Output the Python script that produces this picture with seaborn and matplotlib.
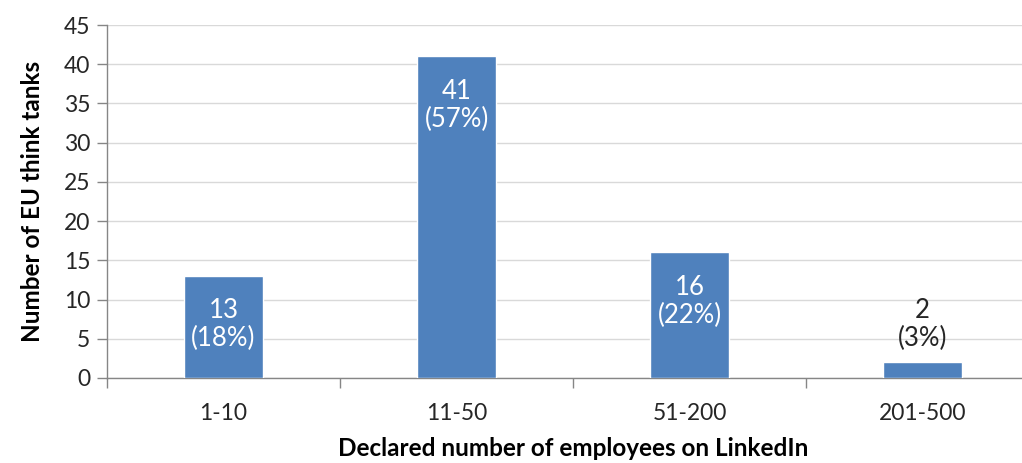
import matplotlib
matplotlib.use("Agg")
import matplotlib.pyplot as plt
import seaborn as sns
import pandas as pd
from matplotlib.ticker import FixedLocator

categories = ["1-10", "11-50", "51-200", "201-500"]
counts = [13, 41, 16, 2]
shares = ["18%", "57%", "22%", "3%"]
yticks = [0, 5, 10, 15, 20, 25, 30, 35, 40, 45]

df = pd.DataFrame({"cat": categories, "n": counts})

sns.set_theme(style="white")
plt.rcParams['font.family'] = ['Lato', 'DejaVu Sans']

fig = plt.figure(figsize=(10.22, 4.63), dpi=100)
ax = fig.add_axes([107/1022, 1-378/463, 932/1022, (378-25)/463])

sns.barplot(data=df, x="cat", y="n", color="#4F81BD", saturation=1, width=0.335, ax=ax, zorder=3)

ax.set_xlim(-0.5, 3.5)
ax.set_ylim(0, 45)
ax.set_yticks(yticks)
ax.yaxis.grid(True, color="#D9D9D9", linewidth=1, zorder=0)
ax.set_axisbelow(True)

for s in ["top", "right"]:
    ax.spines[s].set_visible(False)
for s in ["left", "bottom"]:
    ax.spines[s].set_color("#868686")
    ax.spines[s].set_linewidth(1)

ax.tick_params(axis="y", which="major", direction="out", length=7, width=1, color="#868686",
               labelsize=16.5, labelcolor="#262626", pad=5, left=True)
ax.tick_params(axis="x", which="major", length=0, labelsize=16.5, labelcolor="#262626", pad=18)
ax.xaxis.set_minor_locator(FixedLocator([-0.5, 0.5, 1.5, 2.5]))
ax.tick_params(axis="x", which="minor", direction="out", length=7, width=1, color="#868686", bottom=True)

ax.set_xlabel("Declared number of employees on LinkedIn", fontsize=17.5, fontweight="bold", labelpad=9, color="#000000")
ax.set_ylabel("Number of EU think tanks", fontsize=17.5, fontweight="bold", labelpad=14, color="#000000")

for i, (n, p) in enumerate(zip(counts, shares)):
    txt = f"{n}\n({p})"
    if n >= 5:
        ax.annotate(txt, (i, n), xytext=(0, -16), textcoords="offset points", ha="center", va="top",
                    color="white", fontsize=18.5, linespacing=1.15, zorder=5)
    else:
        ax.annotate(txt, (i, n), xytext=(0, 8), textcoords="offset points", ha="center", va="bottom",
                    color="#262626", fontsize=18.5, linespacing=1.15, zorder=5)

fig.savefig("out.png", dpi=100)
